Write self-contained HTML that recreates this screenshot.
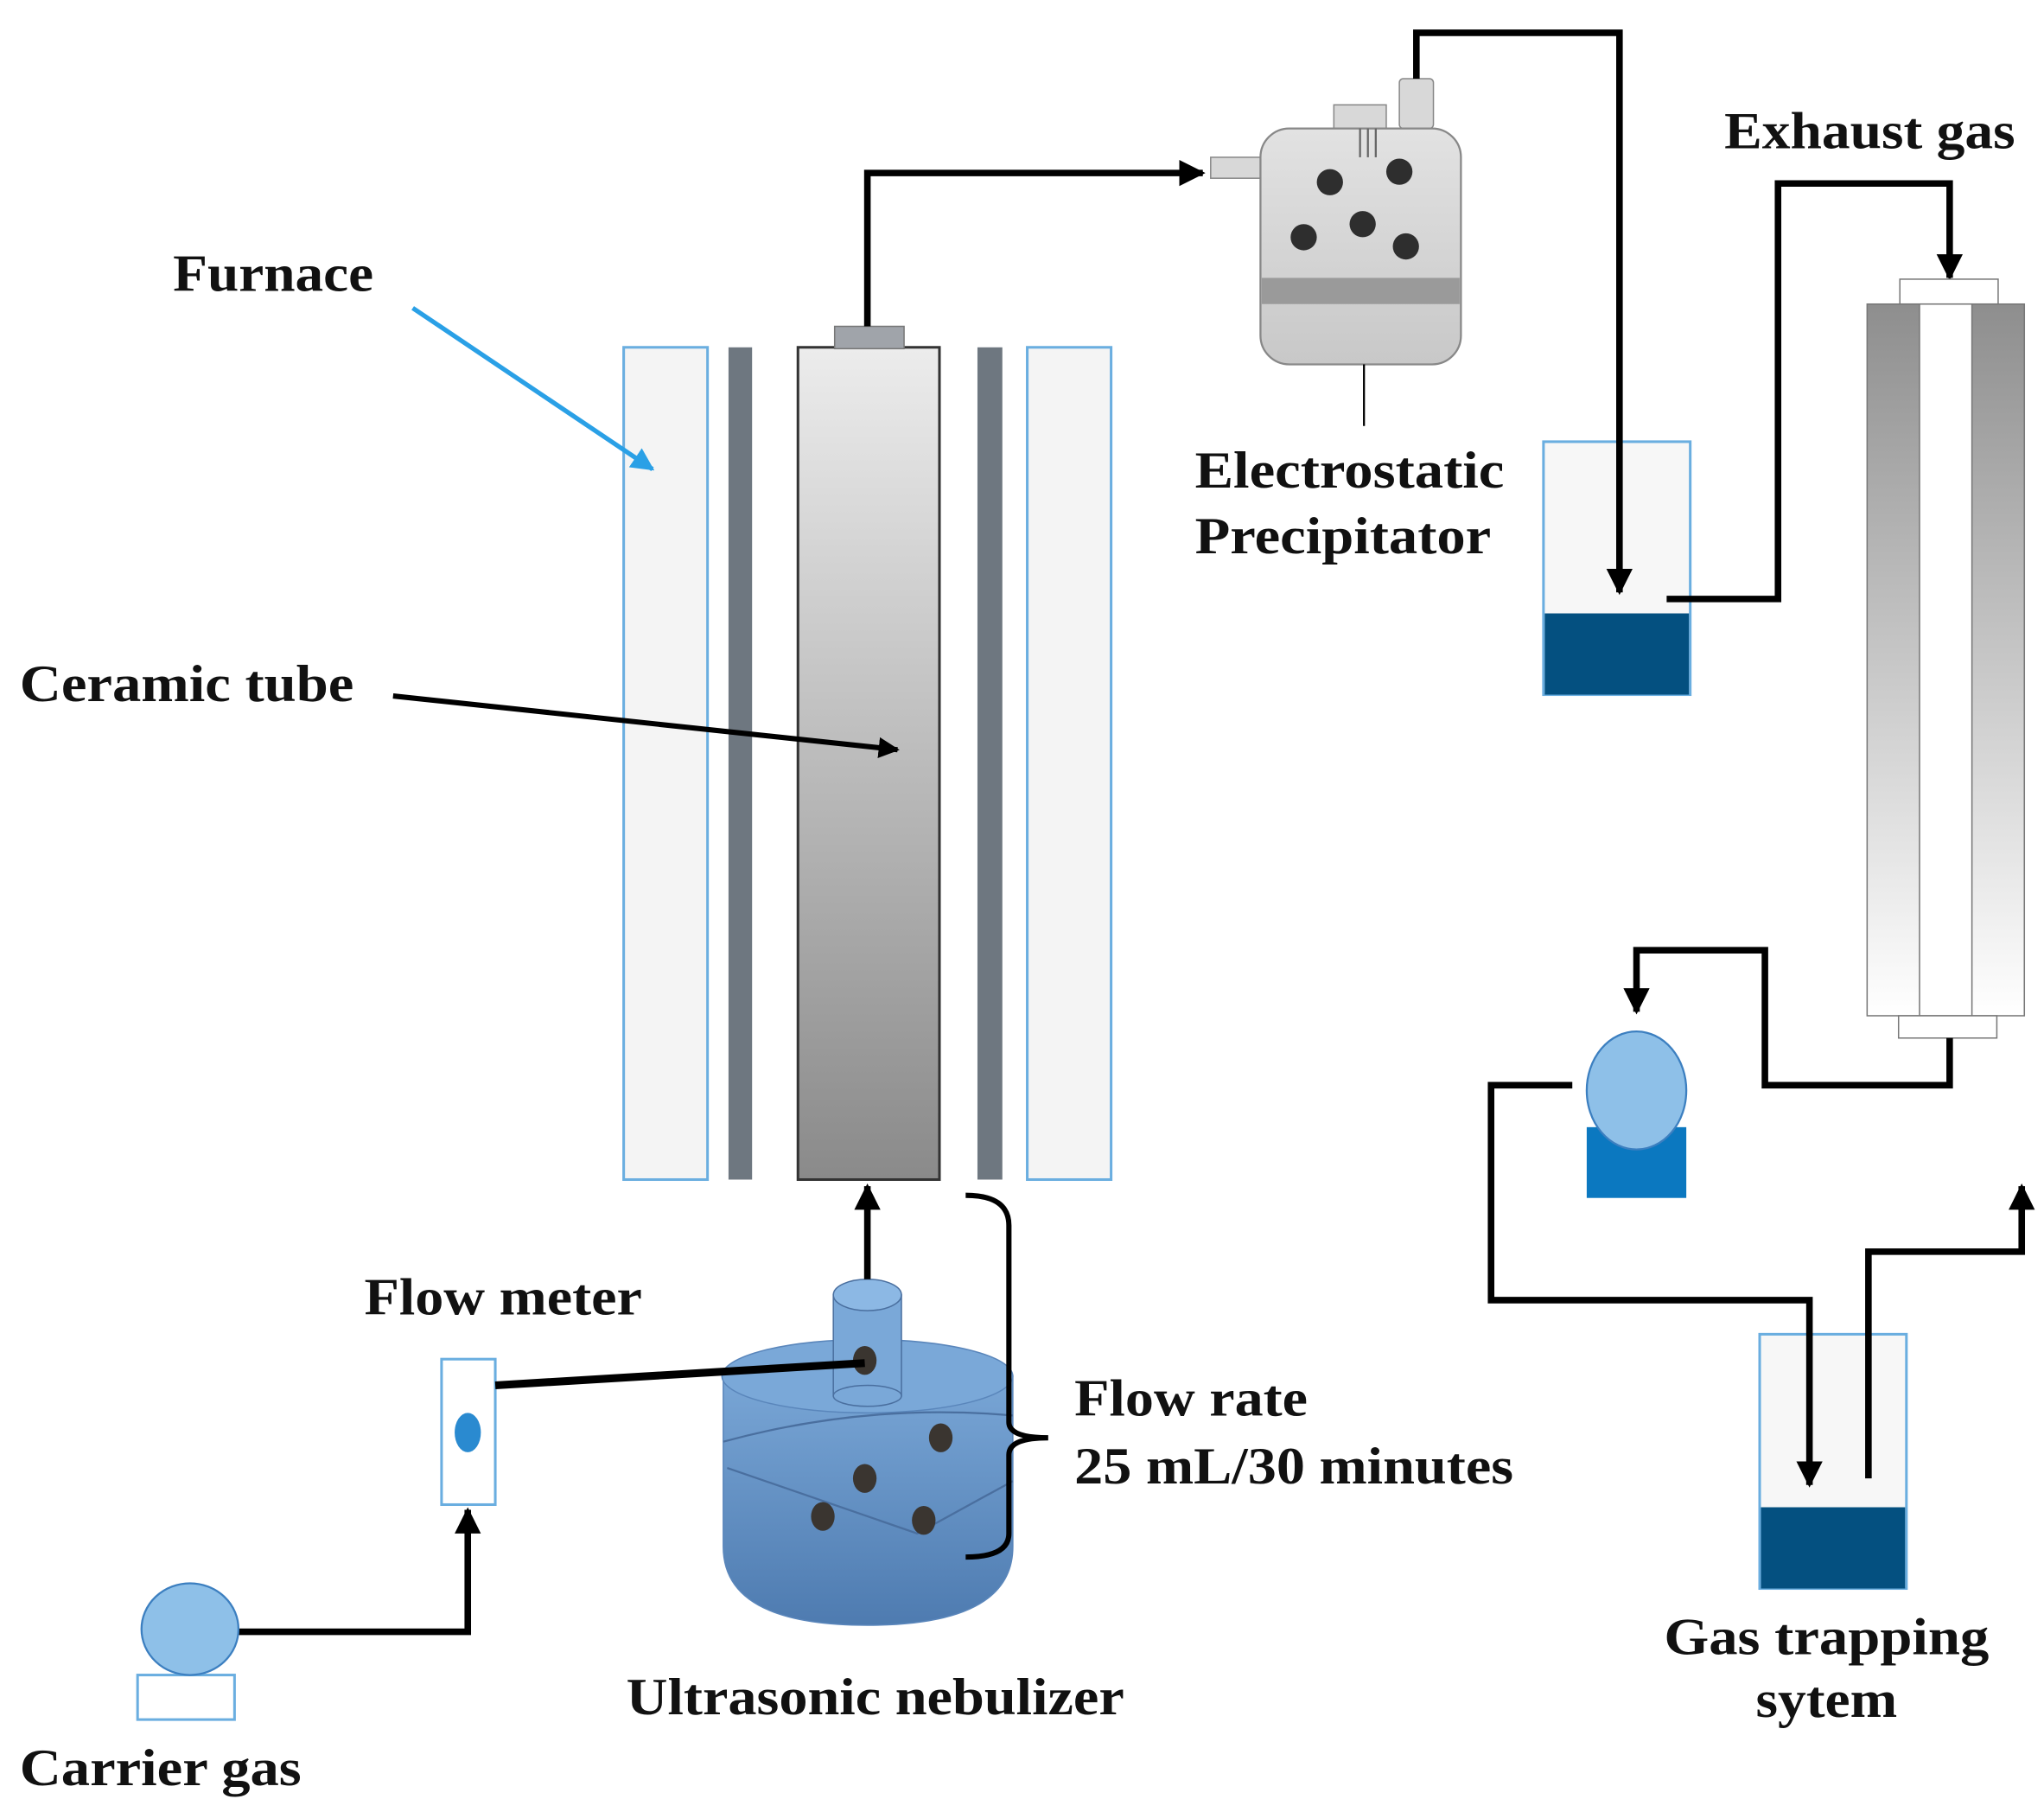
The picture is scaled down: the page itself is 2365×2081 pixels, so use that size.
<!DOCTYPE html>
<html><head><meta charset="utf-8"><style>html,body{margin:0;padding:0;background:#fff}svg{display:block}
text{font-family:"Liberation Serif",serif;font-weight:bold;font-size:40px;fill:#111}</style></head>
<body>
<svg width="2365" height="2081" viewBox="0 0 1560 1372.6" preserveAspectRatio="none" xmlns="http://www.w3.org/2000/svg">
<defs>
<linearGradient id="tube" x1="0" y1="0" x2="0" y2="1"><stop offset="0" stop-color="#ececec"/><stop offset="1" stop-color="#8a8a8a"/></linearGradient>
<linearGradient id="col" x1="0" y1="0" x2="0" y2="1"><stop offset="0" stop-color="#8e8e8e"/><stop offset="1" stop-color="#ffffff"/></linearGradient>
<linearGradient id="esp" x1="0" y1="0" x2="0" y2="1"><stop offset="0" stop-color="#e2e2e2"/><stop offset="1" stop-color="#c8c8c8"/></linearGradient>
<linearGradient id="neb" x1="0" y1="0" x2="0" y2="1"><stop offset="0" stop-color="#79a6d6"/><stop offset="1" stop-color="#4e7bb0"/></linearGradient>
<marker id="ah" viewBox="0 0 10 10" refX="9" refY="5" markerWidth="4" markerHeight="4" orient="auto"><path d="M0,0 L10,5 L0,10 z" fill="#000"/></marker>
<marker id="ahb" viewBox="0 0 10 10" refX="9" refY="5" markerWidth="5" markerHeight="5" orient="auto"><path d="M0,0 L10,5 L0,10 z" fill="#2aa0e6"/></marker>
</defs>
<g fill="none" stroke="#000" stroke-width="5">
<!-- bottles first -->
<rect x="1178" y="337" width="112" height="193" fill="#f7f7f7" stroke="#6aaee0" stroke-width="2"/>
<rect x="1179" y="468" width="110" height="62" fill="#045080" stroke="none"/>
<rect x="1343" y="1018" width="112" height="194" fill="#f7f7f7" stroke="#6aaee0" stroke-width="2"/>
<rect x="1344" y="1150" width="110" height="62" fill="#045080" stroke="none"/>
<!-- furnace -->
<rect x="476" y="265" width="64" height="635" fill="#f4f4f4" stroke="#6aaee0" stroke-width="2"/>
<rect x="556" y="265" width="18" height="635" fill="#6e7780" stroke="none"/>
<rect x="609" y="265" width="108" height="635" fill="url(#tube)" stroke="#333" stroke-width="2"/>
<rect x="637" y="249" width="53" height="17" fill="#a0a4aa" stroke="#777" stroke-width="1"/>
<rect x="746" y="265" width="19" height="635" fill="#6e7780" stroke="none"/>
<rect x="784" y="265" width="64" height="635" fill="#f4f4f4" stroke="#6aaee0" stroke-width="2"/>
<polyline points="662,249 662,132 918,132" marker-end="url(#ah)"/>
<line x1="315" y1="235" x2="498" y2="358" stroke="#2aa0e6" stroke-width="3.5" marker-end="url(#ahb)"/>
<line x1="300" y1="531" x2="685" y2="572" stroke-width="4" marker-end="url(#ah)"/>
<!-- ESP -->
<rect x="924" y="120" width="40" height="16" fill="#d8d8d8" stroke="#888" stroke-width="1"/>
<rect x="1018" y="80" width="40" height="18" fill="#d8d8d8" stroke="#888" stroke-width="1"/>
<rect x="1068" y="60" width="26" height="38" rx="3" fill="#d8d8d8" stroke="#888" stroke-width="1"/>
<rect x="962" y="98" width="153" height="180" rx="22" fill="url(#esp)" stroke="#888" stroke-width="1.5"/>
<rect x="963" y="212" width="151" height="20" fill="#9a9a9a" stroke="none"/>
<g stroke="#666" stroke-width="1.5"><line x1="1038" y1="98" x2="1038" y2="120"/><line x1="1044" y1="98" x2="1044" y2="120"/><line x1="1050" y1="98" x2="1050" y2="120"/></g>
<g fill="#2e2e2e" stroke="none"><circle cx="1015" cy="139" r="10"/><circle cx="1068" cy="131" r="10"/><circle cx="1040" cy="171" r="10"/><circle cx="995" cy="181" r="10"/><circle cx="1073" cy="188" r="10"/></g>
<line x1="1041" y1="278" x2="1041" y2="325" stroke-width="1.5"/>
<polyline points="1081,60 1081,25 1236,25 1236,452" marker-end="url(#ah)"/>
<polyline points="1272,457 1357,457 1357,140 1488,140 1488,212" marker-end="url(#ah)"/>
<!-- column -->
<rect x="1450" y="213" width="75" height="19" fill="#fff" stroke="#777" stroke-width="1"/>
<rect x="1425" y="232" width="120" height="543" fill="url(#col)" stroke="#777" stroke-width="1"/>
<rect x="1465" y="232" width="40" height="543" fill="#fff" stroke="#777" stroke-width="1"/>
<rect x="1449" y="775" width="75" height="17" fill="#fff" stroke="#777" stroke-width="1"/>
<polyline points="1488,792 1488,828 1347,828 1347,725 1249,725 1249,772" marker-end="url(#ah)"/>
<!-- pump -->
<rect x="1211" y="860" width="76" height="54" fill="#0b78c0" stroke="none"/>
<ellipse cx="1249" cy="832" rx="38" ry="45" fill="#8ec0e8" stroke="#3c7fc0" stroke-width="1.5"/>
<polyline points="1200,828 1138,828 1138,992 1381,992 1381,1133" marker-end="url(#ah)"/>
<polyline points="1426,1128 1426,955 1543,955 1543,905" marker-end="url(#ah)"/>
<!-- nebulizer -->
<path d="M552,1050 L552,1180 Q552,1240 662,1240 Q773,1240 773,1180 L773,1050 Z" fill="url(#neb)" stroke="#5a86bb" stroke-width="1"/>
<ellipse cx="662" cy="1050" rx="111" ry="28" fill="#7aa8d8" stroke="#5a86bb" stroke-width="1"/>
<path d="M552,1100 Q662,1070 773,1080" stroke="#4a6f9f" stroke-width="1.5"/>
<path d="M555,1120 L700,1170 L773,1130" stroke="#4a6f9f" stroke-width="1.5"/>
<rect x="636" y="988" width="52" height="77" fill="#7aa8d8" stroke="#4a6f9f" stroke-width="1"/>
<ellipse cx="662" cy="1065" rx="26" ry="8" fill="#7aa8d8" stroke="#4a6f9f" stroke-width="1"/>
<ellipse cx="662" cy="988" rx="26" ry="12" fill="#8cb8e4" stroke="#4a6f9f" stroke-width="1"/>
<g fill="#3a3530" stroke="none"><ellipse cx="660" cy="1038" rx="9" ry="11"/><ellipse cx="718" cy="1097" rx="9" ry="11"/><ellipse cx="660" cy="1128" rx="9" ry="11"/><ellipse cx="628" cy="1157" rx="9" ry="11"/><ellipse cx="705" cy="1160" rx="9" ry="11"/></g>
<line x1="662" y1="976" x2="662" y2="905" marker-end="url(#ah)"/>
<path d="M737,912 Q770,912 770,935 L770,1085 Q770,1097 800,1097 Q770,1097 770,1110 L770,1170 Q770,1188 737,1188" stroke-width="4"/>
<!-- flow meter -->
<rect x="337" y="1037" width="41" height="111" fill="#fff" stroke="#6aaee0" stroke-width="2"/>
<ellipse cx="357" cy="1093" rx="10" ry="15" fill="#2a8ad0" stroke="none"/>
<line x1="378" y1="1057" x2="660" y2="1040" stroke-width="6"/>
<polyline points="181,1245 357,1245 357,1152" marker-end="url(#ah)"/>
<rect x="105" y="1278" width="74" height="34" fill="#fff" stroke="#6aaee0" stroke-width="2"/>
<ellipse cx="145" cy="1243" rx="37" ry="35" fill="#8ec0e8" stroke="#3c7fc0" stroke-width="1.5"/>
</g>
<g>
<text x="132" y="222" textLength="153" lengthAdjust="spacingAndGlyphs">Furnace</text>
<text x="15" y="535" textLength="255" lengthAdjust="spacingAndGlyphs">Ceramic tube</text>
<text x="912" y="372" textLength="236" lengthAdjust="spacingAndGlyphs">Electrostatic</text>
<text x="912" y="422" textLength="226" lengthAdjust="spacingAndGlyphs">Precipitator</text>
<text x="1316" y="113" textLength="222" lengthAdjust="spacingAndGlyphs">Exhaust gas</text>
<text x="278" y="1003" textLength="212" lengthAdjust="spacingAndGlyphs">Flow meter</text>
<text x="820" y="1080" textLength="178" lengthAdjust="spacingAndGlyphs">Flow rate</text>
<text x="820" y="1132" textLength="335" lengthAdjust="spacingAndGlyphs">25 mL/30 minutes</text>
<text x="478" y="1308" textLength="380" lengthAdjust="spacingAndGlyphs">Ultrasonic nebulizer</text>
<text x="15" y="1362" textLength="215" lengthAdjust="spacingAndGlyphs">Carrier gas</text>
<text x="1270" y="1262" textLength="248" lengthAdjust="spacingAndGlyphs">Gas trapping</text>
<text x="1340" y="1310" textLength="108" lengthAdjust="spacingAndGlyphs">sytem</text>
</g>
</svg>
</body></html>
